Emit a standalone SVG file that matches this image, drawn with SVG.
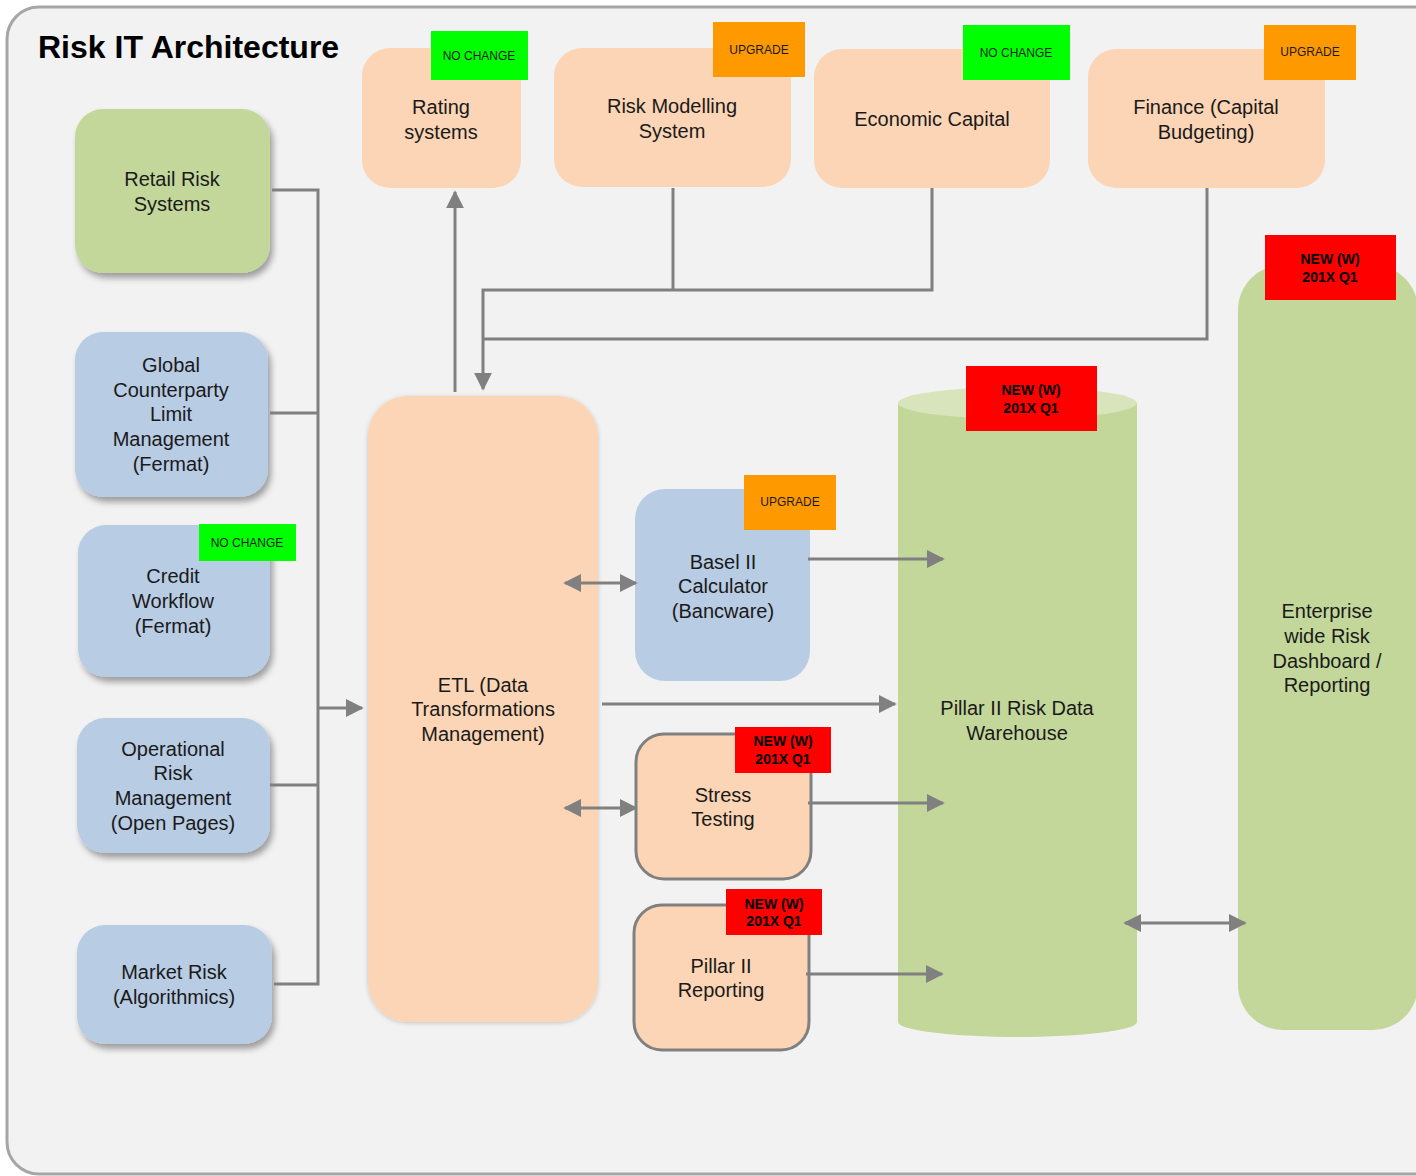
<svg xmlns="http://www.w3.org/2000/svg" width="1416" height="1176" viewBox="0 0 1416 1176">
<defs>
<style>
.t{font-family:"Liberation Sans",Arial,sans-serif;font-size:20px;fill:#1a1a1a;text-anchor:middle}
.b{font-family:"Liberation Sans",Arial,sans-serif;font-size:12px;fill:#1a1a1a;text-anchor:middle}
.n{font-family:"Liberation Sans",Arial,sans-serif;font-size:14px;font-weight:bold;fill:#000;text-anchor:middle}
.peach{fill:#fbd5b5}
.blue{fill:#b8cce4}
.green{fill:#c4d79b}
.c{fill:none;stroke:#808080;stroke-width:3}
</style>
<filter id="sh" x="-20%" y="-20%" width="140%" height="140%">
<feDropShadow dx="3" dy="5" stdDeviation="3" flood-color="#000" flood-opacity="0.35"/>
</filter>
<filter id="sh2" x="-20%" y="-20%" width="140%" height="140%">
<feDropShadow dx="0" dy="1" stdDeviation="2" flood-color="#000" flood-opacity="0.2"/>
</filter>
<marker id="arr" viewBox="0 0 10 10" refX="9" refY="5" markerWidth="6" markerHeight="6" markerUnits="strokeWidth" orient="auto-start-reverse">
<path d="M0,0 L10,5 L0,10 Z" fill="#808080"/>
</marker>
</defs>
<rect x="7" y="7" width="1440" height="1167" rx="32" fill="#f2f2f2" stroke="#a6a6a6" stroke-width="3"/>
<text x="38" y="58" font-family="Liberation Sans,Arial,sans-serif" font-size="32" font-weight="bold" fill="#000">Risk IT Architecture</text>

<g id="rating">
<rect class="peach" x="362" y="48" width="159" height="140" rx="28"/>
<text class="t" x="441" y="114">Rating</text>
<text class="t" x="441" y="139">systems</text>
<rect x="431" y="31" width="97" height="49" fill="#00ff00"/>
<text class="b" x="479" y="60">NO CHANGE</text>
</g>
<g id="riskmodelling">
<rect class="peach" x="554" y="48" width="237" height="139" rx="28"/>
<text class="t" x="672" y="113">Risk Modelling</text>
<text class="t" x="672" y="138">System</text>
<rect x="713" y="22" width="92" height="55" fill="#ff9900"/>
<text class="b" x="759" y="54">UPGRADE</text>
</g>
<g id="economic">
<rect class="peach" x="814" y="49" width="236" height="139" rx="28"/>
<text class="t" x="932" y="126">Economic Capital</text>
<rect x="963" y="25" width="107" height="55" fill="#00ff00"/>
<text class="b" x="1016" y="57">NO CHANGE</text>
</g>
<g id="finance">
<rect class="peach" x="1088" y="49" width="237" height="139" rx="28"/>
<text class="t" x="1206" y="114">Finance (Capital</text>
<text class="t" x="1206" y="139">Budgeting)</text>
<rect x="1264" y="25" width="92" height="55" fill="#ff9900"/>
<text class="b" x="1310" y="56">UPGRADE</text>
</g>

<g id="retail">
<rect class="green" x="75" y="109" width="195" height="164" rx="28" filter="url(#sh)"/>
<text class="t" x="172" y="186">Retail Risk</text>
<text class="t" x="172" y="211">Systems</text>
</g>
<g id="global">
<rect class="blue" x="75" y="332" width="193" height="165" rx="28" filter="url(#sh)"/>
<text class="t" x="171" y="372">Global</text>
<text class="t" x="171" y="397">Counterparty</text>
<text class="t" x="171" y="421">Limit</text>
<text class="t" x="171" y="446">Management</text>
<text class="t" x="171" y="471">(Fermat)</text>
</g>
<g id="credit">
<rect class="blue" x="78" y="525" width="192" height="152" rx="28" filter="url(#sh)"/>
<text class="t" x="173" y="583">Credit</text>
<text class="t" x="173" y="608">Workflow</text>
<text class="t" x="173" y="633">(Fermat)</text>
<rect x="199" y="524" width="97" height="37" fill="#00ff00"/>
<text class="b" x="247" y="547">NO CHANGE</text>
</g>
<g id="operational">
<rect class="blue" x="77" y="718" width="193" height="135" rx="28" filter="url(#sh)"/>
<text class="t" x="173" y="756">Operational</text>
<text class="t" x="173" y="780">Risk</text>
<text class="t" x="173" y="805">Management</text>
<text class="t" x="173" y="830">(Open Pages)</text>
</g>
<g id="market">
<rect class="blue" x="77" y="925" width="195" height="119" rx="28" filter="url(#sh)"/>
<text class="t" x="174" y="979">Market Risk</text>
<text class="t" x="174" y="1004">(Algorithmics)</text>
</g>

<g id="etl">
<rect class="peach" x="368" y="396" width="230" height="626" rx="40" filter="url(#sh2)"/>
<text class="t" x="483" y="692">ETL (Data</text>
<text class="t" x="483" y="716">Transformations</text>
<text class="t" x="483" y="741">Management)</text>
</g>

<g id="basel">
<rect class="blue" x="635" y="489" width="175" height="192" rx="30"/>
<text class="t" x="723" y="569">Basel II</text>
<text class="t" x="723" y="593">Calculator</text>
<text class="t" x="723" y="618">(Bancware)</text>
<rect x="744" y="475" width="92" height="55" fill="#ff9900"/>
<text class="b" x="790" y="506">UPGRADE</text>
</g>
<g id="stress">
<rect class="peach" x="636" y="734" width="175" height="145" rx="28" stroke="#808080" stroke-width="3"/>
<text class="t" x="723" y="802">Stress</text>
<text class="t" x="723" y="826">Testing</text>
<rect x="735" y="727" width="96" height="46" fill="#ff0000"/>
<text class="n" x="783" y="746">NEW (W)</text>
<text class="n" x="783" y="764">201X Q1</text>
</g>
<g id="pillar2reporting">
<rect class="peach" x="634" y="905" width="175" height="145" rx="28" stroke="#808080" stroke-width="3"/>
<text class="t" x="721" y="973">Pillar II</text>
<text class="t" x="721" y="997">Reporting</text>
<rect x="726" y="889" width="96" height="46" fill="#ff0000"/>
<text class="n" x="774" y="909">NEW (W)</text>
<text class="n" x="774" y="926">201X Q1</text>
</g>

<g id="warehouse">
<path class="green" d="M898,403 L898,1022 A119.5,15 0 0 0 1137,1022 L1137,403 Z"/>
<ellipse cx="1017.5" cy="403" rx="119.5" ry="16" fill="#d8e4bc"/>
<text class="t" x="1017" y="715">Pillar II Risk Data</text>
<text class="t" x="1017" y="740">Warehouse</text>
<rect x="966" y="366" width="131" height="65" fill="#ff0000"/>
<text class="n" x="1031" y="395">NEW (W)</text>
<text class="n" x="1031" y="413">201X Q1</text>
</g>

<g id="enterprise">
<rect class="green" x="1238" y="265" width="180" height="765" rx="45"/>
<text class="t" x="1327" y="618">Enterprise</text>
<text class="t" x="1327" y="643">wide Risk</text>
<text class="t" x="1327" y="668">Dashboard /</text>
<text class="t" x="1327" y="692">Reporting</text>
<rect x="1265" y="235" width="131" height="65" fill="#ff0000"/>
<text class="n" x="1330" y="264">NEW (W)</text>
<text class="n" x="1330" y="282">201X Q1</text>
</g>

<g id="connectors">
<polyline class="c" points="272,190 318,190 318,984 274,984"/>
<line class="c" x1="270" y1="413" x2="318" y2="413"/>
<line class="c" x1="270" y1="785" x2="318" y2="785"/>
<line class="c" x1="318" y1="708" x2="362" y2="708" marker-end="url(#arr)"/>
<line class="c" x1="455" y1="392" x2="455" y2="192" marker-end="url(#arr)"/>
<polyline class="c" points="673,188 673,290"/>
<polyline class="c" points="932,188 932,290 483,290 483,389" marker-end="url(#arr)"/>
<polyline class="c" points="1207,188 1207,339 483,339"/>
<line class="c" x1="565" y1="583" x2="636" y2="583" marker-start="url(#arr)" marker-end="url(#arr)"/>
<line class="c" x1="808" y1="559" x2="943" y2="559" marker-end="url(#arr)"/>
<line class="c" x1="602" y1="704" x2="895" y2="704" marker-end="url(#arr)"/>
<line class="c" x1="565" y1="808" x2="636" y2="808" marker-start="url(#arr)" marker-end="url(#arr)"/>
<line class="c" x1="808" y1="803" x2="943" y2="803" marker-end="url(#arr)"/>
<line class="c" x1="806" y1="974" x2="942" y2="974" marker-end="url(#arr)"/>
<line class="c" x1="1125" y1="923" x2="1245" y2="923" marker-start="url(#arr)" marker-end="url(#arr)"/>
</g>
</svg>
